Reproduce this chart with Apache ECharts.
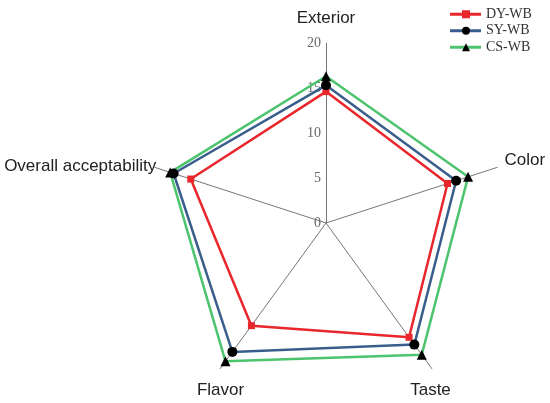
<!DOCTYPE html>
<html>
<head>
<meta charset="utf-8">
<script src="https://cdn.jsdelivr.net/npm/echarts@6/dist/echarts.min.js"></script>
<style>html,body{margin:0;padding:0;background:#fff}#c{width:550px;height:403px}</style>
</head>
<body>
<div id="c"></div>
<script>
// indicators in ECharts radar order (counter-clockwise from top)
var indicators = ['Exterior', 'Overall acceptability', 'Flavor', 'Taste', 'Color'];
var maxValue = 20;
var seriesNames = ['DY-WB', 'SY-WB', 'CS-WB'];
var dyWB = [14.6, 15.8, 14.1, 15.7, 14.2];
var syWB = [15.3, 17.8, 17.7, 16.7, 15.2];
var csWB = [16.3, 18.2, 19.0, 18.1, 16.6];

var lineColors = ['#e8262b', '#3a5e8c', '#4cc46e'];
var markColors = ['#e8262b', '#000000', '#000000'];
var symbols = ['rect', 'circle', 'triangle'];
var symbolSizes = [7, 10, 10];
var values = [dyWB, syWB, csWB];

var nameKeys = {'Exterior': 'ext', 'Overall acceptability': 'ova', 'Flavor': 'fla', 'Taste': 'tas', 'Color': 'col'};
var baseName = {fontFamily: 'Liberation Sans, Arial, sans-serif', fontSize: 17, color: '#222'};
var rich = {
  ext: Object.assign({padding: [0, 0, 34, 0]}, baseName),
  ova: Object.assign({padding: [2, 134, 0, 0]}, baseName),
  fla: Object.assign({padding: [30, 0, 0, 10]}, baseName),
  tas: Object.assign({padding: [30, 12, 0, 0]}, baseName),
  col: Object.assign({padding: [0, 0, 10, 40]}, baseName)
};

var chart = echarts.init(document.getElementById('c'), null, {renderer: 'canvas'});
var option = {
  animation: false,
  backgroundColor: '#fff',
  legend: [{
    orient: 'vertical',
    left: 450,
    top: 6,
    padding: 0,
    itemWidth: 31,
    itemHeight: 3,
    itemGap: 0,
    textStyle: {fontFamily: 'Liberation Serif, Times New Roman, serif', fontSize: 14, lineHeight: 16.5, color: '#333'},
    data: seriesNames.map(function (n, i) {
      return {name: n, icon: 'rect', itemStyle: {color: lineColors[i]}};
    })
  }, {
    orient: 'vertical',
    left: 462,
    top: 6,
    padding: 0,
    itemWidth: 8,
    itemHeight: 8,
    itemGap: 0,
    formatter: function () { return ' '; },
    textStyle: {fontFamily: 'Liberation Serif, Times New Roman, serif', fontSize: 14, lineHeight: 16.5, color: 'rgba(0,0,0,0)'},
    data: seriesNames.map(function (n, i) {
      return {name: n, icon: symbols[i], itemStyle: {color: markColors[i]}};
    })
  }],
  radar: {
    center: [326, 223],
    radius: 180,
    startAngle: 90,
    shape: 'polygon',
    splitNumber: 4,
    nameGap: 8,
    axisName: {
      align: 'center',
      verticalAlign: 'middle',
      formatter: function (name) { return '{' + nameKeys[name] + '|' + name + '}'; },
      rich: rich
    },
    splitLine: {show: false},
    splitArea: {show: false},
    axisLine: {lineStyle: {color: '#777', width: 1}},
    axisTick: {show: false},
    axisLabel: {show: false},
    indicator: indicators.map(function (n, i) {
      var ind = {name: n, min: 0, max: maxValue};
      if (i === 0) {
        ind.axisLabel = {show: true, color: '#666', fontFamily: 'Liberation Serif, Times New Roman, serif', fontSize: 14, margin: 5};
      }
      return ind;
    })
  },
  series: [{
    type: 'radar',
    data: values.map(function (v, i) {
      return {
        name: seriesNames[i],
        value: v,
        symbol: symbols[i],
        symbolSize: symbolSizes[i],
        lineStyle: {color: lineColors[i], width: 2.5},
        itemStyle: {color: markColors[i]}
      };
    })
  }]
};
chart.setOption(option);
</script>
</body>
</html>
